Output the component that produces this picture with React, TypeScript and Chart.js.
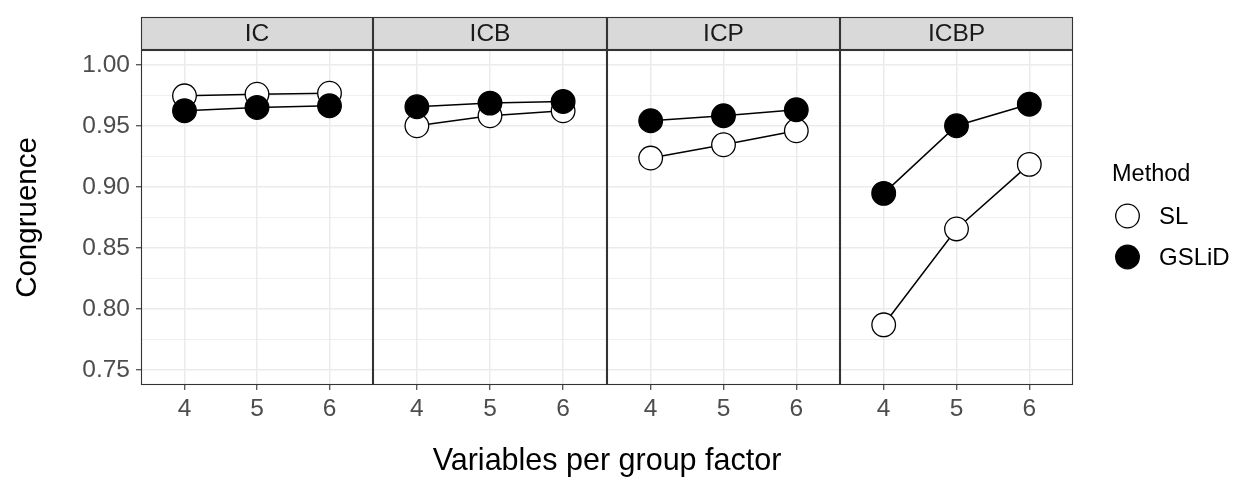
import React, { useEffect, useRef } from 'react';
import { Chart, registerables } from 'chart.js';

Chart.register(...registerables);

// ---------------- data ----------------
const panelNames = ['IC', 'ICB', 'ICP', 'ICBP'];
const xCategories = [4, 5, 6];
const methodNames = ['SL', 'GSLiD'];
const methodFill = ['#FFFFFF', '#000000'];

// SL values per panel (x = 4, 5, 6)
const slIC = [0.9749, 0.9762, 0.977];
const slICB = [0.9503, 0.9585, 0.9626];
const slICP = [0.9238, 0.9347, 0.9462];
const slICBP = [0.7869, 0.8656, 0.9186];

// GSLiD values per panel (x = 4, 5, 6)
const gsIC = [0.9626, 0.9653, 0.9667];
const gsICB = [0.9659, 0.9689, 0.9702];
const gsICP = [0.9544, 0.9585, 0.9634];
const gsICBP = [0.8948, 0.9503, 0.968];

const slSeries = [slIC, slICB, slICP, slICBP];
const gsSeries = [gsIC, gsICB, gsICP, gsICBP];

const yMajorTicks = [0.75, 0.8, 0.85, 0.9, 0.95, 1.0];
const yMinorTicks = [0.775, 0.825, 0.875, 0.925, 0.975];

const xTitle = 'Variables per group factor';
const yTitle = 'Congruence';
const legendTitle = 'Method';

const Y_MIN = 0.7375;
const Y_MAX = 1.0125;
const X_MIN = 3.4;
const X_MAX = 6.6;

// ---------------- layout / style ----------------
const FONT = "'Liberation Sans', Arial, Helvetica, sans-serif";
const W = 1244;
const H = 484;
const STRIP_TOP = 17;
const PLOT_BOTTOM = 385;
const panelLeft = [141, 373, 607, 840];
const panelWidth = [232, 234, 233, 233];
const POINT_R = 11.8;
const LINE_W = 1.5;

Chart.defaults.font.family = FONT;

const isMinor = (v: number) => yMinorTicks.some((m) => Math.abs(m - v) < 1e-6);

function canvasBox(i: number) {
  if (i === 0) return { left: 0, width: panelLeft[0] + panelWidth[0] };
  if (i === 3) return { left: panelLeft[3], width: W - panelLeft[3] };
  return { left: panelLeft[i], width: panelWidth[i] };
}

const panelDecor = {
  id: 'panelDecor',
  beforeDraw(chart: any) {
    const { ctx, chartArea: a } = chart;
    ctx.save();
    ctx.fillStyle = '#D9D9D9';
    ctx.fillRect(a.left, STRIP_TOP, a.right - a.left, a.top - STRIP_TOP);
    ctx.restore();
  },
  afterDraw(chart: any) {
    const { ctx, chartArea: a } = chart;
    ctx.save();
    ctx.strokeStyle = '#333333';
    ctx.lineWidth = 1.1;
    ctx.strokeRect(a.left + 0.5, STRIP_TOP + 0.5, a.right - a.left - 1, a.top - STRIP_TOP - 1);
    ctx.strokeRect(a.left + 0.5, a.top + 0.5, a.right - a.left - 1, a.bottom - a.top - 1);
    ctx.restore();
  },
};

// legend drawn to the right of the last panel
const legendDecor = {
  id: 'legendDecor',
  afterDraw(chart: any) {
    const { ctx, chartArea: a } = chart;
    const x0 = a.right + 39;
    ctx.save();
    ctx.fillStyle = '#000000';
    ctx.textAlign = 'left';
    ctx.textBaseline = 'middle';
    ctx.font = `23.5px ${FONT}`;
    ctx.fillText(legendTitle, x0, 175);
    ctx.font = `24px ${FONT}`;
    methodNames.forEach((name, k) => {
      const cy = 216 + k * 41;
      ctx.beginPath();
      ctx.arc(x0 + 15.5, cy, POINT_R, 0, Math.PI * 2);
      ctx.fillStyle = methodFill[k];
      ctx.fill();
      ctx.lineWidth = 1.3;
      ctx.strokeStyle = '#000000';
      ctx.stroke();
      ctx.fillStyle = '#000000';
      ctx.fillText(name, x0 + 47, cy + 1);
    });
    ctx.restore();
  },
};

function makeConfig(i: number): any {
  const first = i === 0;
  const last = i === 3;
  const pts = (arr: number[]) => xCategories.map((x, k) => ({ x, y: arr[k] }));
  const { width } = canvasBox(i);

  const datasets = [
    {
      label: methodNames[0] + ' line',
      data: pts(slSeries[i]),
      borderColor: '#000000',
      borderWidth: LINE_W,
      pointRadius: 0,
      showLine: true,
      fill: false,
      order: 3,
    },
    {
      label: methodNames[1] + ' line',
      data: pts(gsSeries[i]),
      borderColor: '#000000',
      borderWidth: LINE_W,
      pointRadius: 0,
      showLine: true,
      fill: false,
      order: 2,
    },
    {
      label: methodNames[0],
      data: pts(slSeries[i]),
      showLine: false,
      pointStyle: 'circle',
      pointRadius: POINT_R,
      pointBackgroundColor: methodFill[0],
      pointBorderColor: '#000000',
      pointBorderWidth: 1.3,
      backgroundColor: methodFill[0],
      borderColor: '#000000',
      order: 1,
    },
    {
      label: methodNames[1],
      data: pts(gsSeries[i]),
      showLine: false,
      pointStyle: 'circle',
      pointRadius: POINT_R,
      pointBackgroundColor: methodFill[1],
      pointBorderColor: '#000000',
      pointBorderWidth: 1.3,
      backgroundColor: methodFill[1],
      borderColor: '#000000',
      order: 0,
    },
  ];

  const scales: any = {
    x: {
      type: 'linear',
      min: X_MIN,
      max: X_MAX,
      afterBuildTicks: (s: any) => {
        s.ticks = xCategories.map((v) => ({ value: v }));
      },
      afterFit: (s: any) => {
        s.height = H - PLOT_BOTTOM;
      },
      ticks: {
        autoSkip: false,
        maxRotation: 0,
        padding: 5,
        color: '#4D4D4D',
        font: { size: 24.5, family: FONT },
        callback: (v: any) => String(v),
      },
      grid: {
        color: '#EBEBEB',
        lineWidth: 1.5,
        drawTicks: true,
        tickLength: 5,
        tickColor: '#333333',
        tickWidth: 1.1,
      },
      border: { display: false },
    },
    y: {
      type: 'linear',
      position: 'left',
      min: Y_MIN,
      max: Y_MAX,
      afterBuildTicks: (s: any) => {
        s.ticks = [...yMajorTicks, ...yMinorTicks].sort((a, b) => a - b).map((v) => ({ value: v }));
      },
      afterFit: (s: any) => {
        s.width = first ? panelLeft[0] : 0;
      },
      ticks: {
        display: first,
        autoSkip: false,
        padding: 6,
        color: '#4D4D4D',
        font: { size: 24.5, family: FONT },
        callback: (v: any) => (isMinor(Number(v)) ? '' : Number(v).toFixed(2)),
      },
      grid: {
        color: '#EBEBEB',
        lineWidth: (c: any) => (c.tick && isMinor(c.tick.value) ? 0.8 : 1.5),
        drawTicks: first,
        tickLength: first ? 5 : 0,
        tickColor: (c: any) => (c.tick && isMinor(c.tick.value) ? 'rgba(0,0,0,0)' : '#333333'),
        tickWidth: 1.1,
      },
      border: { display: false },
      title: {
        display: first,
        text: yTitle,
        color: '#000000',
        font: { size: 29.5, family: FONT },
        padding: { top: 10, bottom: 0 },
      },
    },
  };

  const padRight = last ? width - panelWidth[3] : 0;

  return {
    type: 'line',
    data: { datasets },
    plugins: last ? [panelDecor, legendDecor] : [panelDecor],
    options: {
      responsive: false,
      maintainAspectRatio: false,
      animation: false,
      events: [],
      devicePixelRatio: 1,
      layout: { autoPadding: false, padding: { top: STRIP_TOP, left: 0, right: padRight, bottom: 0 } },
      scales,
      plugins: {
        tooltip: { enabled: false },
        legend: { display: false },
        title: {
          display: true,
          text: panelNames[i],
          position: 'top',
          fullSize: false,
          color: '#1A1A1A',
          font: { size: 24.5, family: FONT, weight: 'normal', lineHeight: 1 },
          padding: { top: 4.5, bottom: 4 },
        },
      },
    },
  };
}

function Panel({ index }: { index: number }) {
  const ref = useRef<HTMLCanvasElement | null>(null);
  useEffect(() => {
    if (!ref.current) return;
    const chart = new Chart(ref.current, makeConfig(index));
    return () => chart.destroy();
  }, [index]);
  const { left, width } = canvasBox(index);
  return (
    <canvas
      ref={ref}
      width={width}
      height={H}
      style={{ position: 'absolute', left, top: 0, width, height: H, display: 'block' }}
    />
  );
}

export default function App() {
  const plotLeft = panelLeft[0];
  const plotRight = panelLeft[3] + panelWidth[3];
  return (
    <div
      style={{
        position: 'absolute',
        left: 0,
        top: 0,
        width: W,
        height: H,
        background: '#FFFFFF',
        overflow: 'hidden',
        fontFamily: FONT,
      }}
    >
      {panelNames.map((n, i) => (
        <Panel key={n} index={i} />
      ))}
      <div
        style={{
          position: 'absolute',
          left: plotLeft,
          width: plotRight - plotLeft,
          top: 444,
          textAlign: 'center',
          fontSize: 30.5,
          lineHeight: '30px',
          color: '#000000',
          whiteSpace: 'nowrap',
        }}
      >
        {xTitle}
      </div>
    </div>
  );
}
